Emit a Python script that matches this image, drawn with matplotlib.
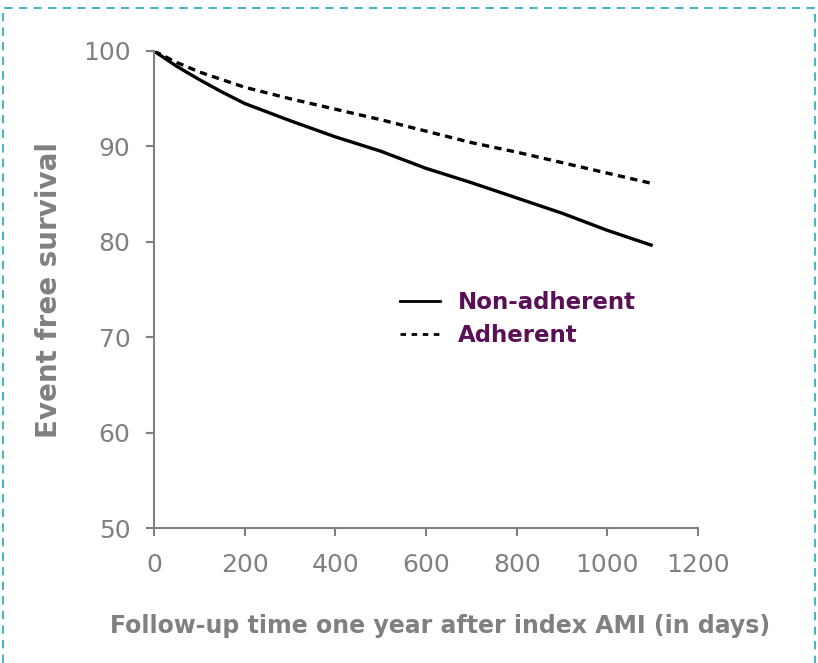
import matplotlib
matplotlib.use("Agg")
import matplotlib.pyplot as plt
from matplotlib.patches import Rectangle
from matplotlib.lines import Line2D

days = [0, 50, 100, 150, 200, 300, 400, 500, 600, 700, 800, 900, 1000, 1100]
non_adherent = [100, 98.4, 97.0, 95.7, 94.5, 92.7, 91.0, 89.5, 87.7, 86.2, 84.6, 83.0, 81.2, 79.6]
adherent = [100, 98.8, 97.8, 97.0, 96.2, 95.0, 93.9, 92.8, 91.6, 90.4, 89.4, 88.3, 87.2, 86.1]
x_ticks = [0, 200, 400, 600, 800, 1000, 1200]
y_ticks = [50, 60, 70, 80, 90, 100]
labels = ["Non-adherent", "Adherent"]

W, H = 818, 663
fig = plt.figure(figsize=(W / 100, H / 100), dpi=100)
ax = fig.add_axes([154 / W, 1 - 528 / H, (698 - 154) / W, (528 - 51) / H])

gray = "#808080"
purple = "#5b0f57"

ax.plot(days, non_adherent, color="black", lw=2.4, solid_capstyle="butt", solid_joinstyle="round")
ax.plot(days, adherent, color="black", lw=2.4, linestyle=(0, (2.2, 1.6)))

ax.set_xlim(0, 1200)
ax.set_ylim(50, 100)
ax.set_xticks(x_ticks)
ax.set_yticks(y_ticks)
for s in ["top", "right"]:
    ax.spines[s].set_visible(False)
for s in ["left", "bottom"]:
    ax.spines[s].set_color(gray)
    ax.spines[s].set_linewidth(1.5)
ax.tick_params(axis="both", colors=gray, labelcolor=gray, labelsize=18, width=1.5, length=6)
ax.tick_params(axis="y", pad=11)
ax.tick_params(axis="x", pad=12)

ax.set_xlabel("Follow-up time one year after index AMI (in days)", fontsize=17,
              fontweight="bold", color=gray, labelpad=27)
ax.xaxis.set_label_coords((440 - 154) / (698 - 154), -0.0, transform=ax.transAxes)
ax.xaxis.label.set_verticalalignment("center")
ax.xaxis.set_label_coords((440 - 154) / (698 - 154), -(626 - 528) / (528 - 51))
ax.set_ylabel("Event free survival", fontsize=20, fontweight="bold", color=gray)
ax.yaxis.label.set_verticalalignment("center")
ax.yaxis.set_label_coords(-(154 - 49) / (698 - 154), 0.5)

handles = [Line2D([], [], color="black", lw=2),
           Line2D([], [], color="black", lw=2, linestyle=(0, (2, 2)))]
leg = ax.legend(handles, labels, loc="upper left",
                bbox_to_anchor=((379 - 154) / (698 - 154), (528 - 270) / (528 - 51)),
                frameon=False, handlelength=1.75, handletextpad=0.8, labelspacing=0.45,
                prop={"weight": "bold", "size": 16.5})
for t in leg.get_texts():
    t.set_color(purple)

border = Rectangle((3 / W, -0.05), (815 - 3) / W, 1 - 8 / H + 0.05, transform=fig.transFigure,
                   fill=False, edgecolor="#4bb5c1", lw=1.5, linestyle=(0, (4, 3)), clip_on=False)
fig.patches.append(border)

fig.savefig("out.png", dpi=100)
